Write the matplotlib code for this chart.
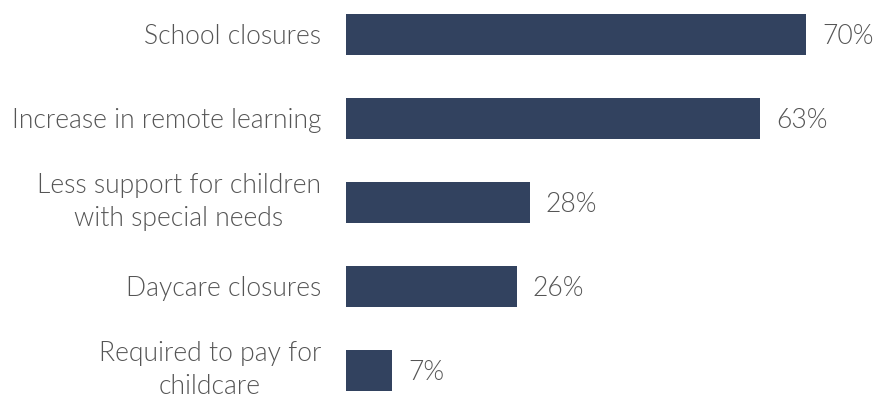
import matplotlib
matplotlib.use("Agg")
import matplotlib.pyplot as plt

categories = ["School closures", "Increase in remote learning",
              "Less support for children\nwith special needs",
              "Daycare closures", "Required to pay for\nchildcare"]
values = [70, 63, 28, 26, 7]
value_labels = ["70%", "63%", "28%", "26%", "7%"]

bar_color = "#32425f"
text_color = "#555555"

fam = ["Lato", "DejaVu Sans"]
fs = 19.1

fig = plt.figure(figsize=(8.77, 3.96), dpi=100)
W, H = 877, 396
left = 346
ax = fig.add_axes([left / W, 0, (W - left) / W, 1])
ypos = list(range(len(categories)))
ax.barh(ypos, values, height=0.49, color=bar_color)
ax.set_xlim(0, (W - left) / 6.57)
ax.set_ylim(4.304, -0.4107)
ax.set_yticks([])
ax.set_xticks([])
for s in ax.spines.values():
    s.set_visible(False)

for y, cat in zip(ypos, categories):
    nlines = cat.count("\n") + 1
    dy = -9.5 if nlines == 1 else -23.5
    ax.annotate(cat, xy=(0, y), xytext=(-25, dy), textcoords="offset pixels",
                va="baseline", ha="right", multialignment="center",
                fontsize=fs, color=text_color, family=fam, fontweight=300,
                linespacing=1.38, annotation_clip=False)

for y, v, lab in zip(ypos, values, value_labels):
    ax.annotate(lab, xy=(v, y), xytext=(16, -10), textcoords="offset pixels",
                va="baseline", ha="left", fontsize=fs, color=text_color,
                family=fam, fontweight=300)
fig.savefig("out.png", dpi=100)
